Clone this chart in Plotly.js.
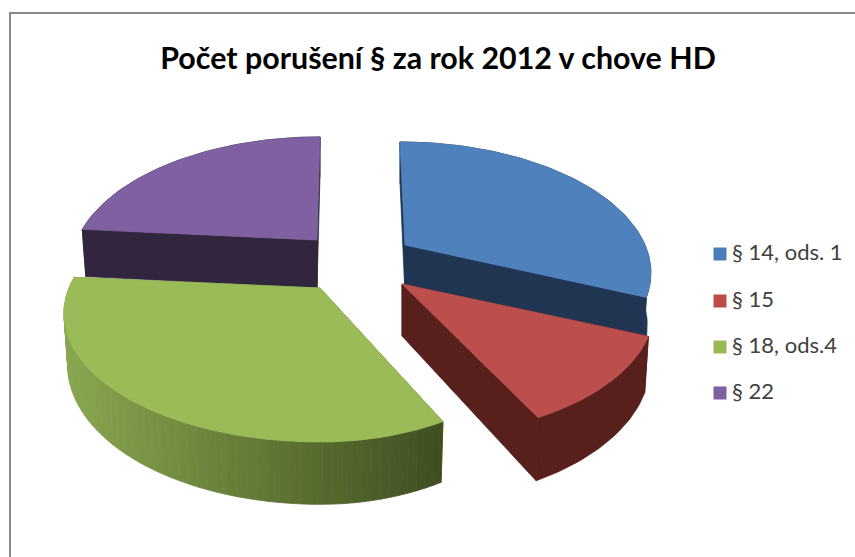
<!DOCTYPE html>
<html>
<head>
<meta charset="utf-8">
<script src="https://cdn.plot.ly/plotly-3.0.1.min.js"></script>
<style>html,body{margin:0;padding:0;background:#fff;overflow:hidden}</style>
</head>
<body>
<div id="chart" style="width:855px;height:557px"></div>
<script>
// Data
const titleText = "Počet porušení § za rok 2012 v chove HD";
const categories = ["§ 14, ods. 1", "§ 15", "§ 18, ods.4", "§ 22"];
const values = [31.4, 11.1, 33.9, 23.6];

// Styles
const topColors = ["#4f81bd", "#bc4f4c", "#9bbb59", "#7f60a0"];
const sideColors = ["#1f3552", "#57201c", "#5f7832", "#32263f"];
const keyColors = ["#4a7ebb", "#be4b48", "#98b954", "#7d60a0"];
const greenWallLeft = [136, 166, 78];
const greenWallRight = [62, 78, 32];

// Projection of the exploded tilted pie (pixel axes)
const apexX = [405, 402, 320, 317];
const apexY = [245, 284, 288, 240];
const radiusRight = [240, 247, 223, 240];
const radiusLeft = [240, 247, 251, 240];
const wallH = [50, 52, 50, 48];
const lean = [-5, 0, 0, 3];
const tiltA = 123.5, persp = 0.198, bottomShrink = 0.985;
const drawOrder = [0, 3, 1, 2];

const total = values.reduce((a, b) => a + b, 0);
let acc = 0;
const startDeg = [], endDeg = [];
values.forEach(v => { startDeg.push(acc / total * 360); acc += v; endDeg.push(acc / total * 360); });

function project(i, deg, r, low) {
  const t = deg * Math.PI / 180;
  const u = r * Math.sin(t), v = r * Math.cos(t);
  const w = 1 + persp * v;
  const sx = (u * (u >= 0 ? radiusRight[i] : radiusLeft[i])) / w + lean[i] * v;
  const sy = -v * tiltA / w;
  const x = apexX[i] + sx * (low ? bottomShrink : 1);
  const y = apexY[i] + sy + (low ? wallH[i] / w : 0);
  return [x, y];
}
function rim(i, a, b, low) {
  const n = Math.max(2, Math.ceil(Math.abs(b - a) / 1.5));
  const pts = [];
  for (let k = 0; k <= n; k++) pts.push(project(i, a + (b - a) * k / n, 1, low));
  return pts;
}
function poly(pts, color) {
  const p = pts.concat([pts[0]]);
  return { type: "scatter", mode: "lines", x: p.map(q => q[0]), y: p.map(q => q[1]),
    fill: "toself", fillcolor: color, line: { color: color, width: 0.8 },
    hoverinfo: "skip", showlegend: false };
}

const traces = [];
drawOrder.forEach(i => {
  const a = startDeg[i], b = endDeg[i], side = sideColors[i];
  const apexT = project(i, a, 0, false), apexB = project(i, a, 0, true);
  traces.push(poly([apexT, project(i, a, 1, false), project(i, a, 1, true), apexB], side));
  traces.push(poly([apexT, project(i, b, 1, false), project(i, b, 1, true), apexB], side));
  if (i === 2) {
    // shaded outer wall of the green slice: dark on the right, light on the left
    const n = 60;
    const xR = project(i, a, 1, false)[0], xL = 65;
    for (let k = 0; k < n; k++) {
      const d0 = a + (b - a) * k / n, d1 = a + (b - a) * (k + 1) / n;
      const xm = project(i, (d0 + d1) / 2, 1, false)[0];
      const f = Math.min(1, Math.max(0, (xm - xL) / (xR - xL)));
      const c = greenWallLeft.map((c0, j) => Math.round(c0 + (greenWallRight[j] - c0) * f));
      traces.push(poly(rim(i, d0, d1, false).concat(rim(i, d1, d0, true)), `rgb(${c.join(",")})`));
    }
  } else {
    traces.push(poly(rim(i, a, b, false).concat(rim(i, b, a, true)), side));
  }
  traces.push(poly([apexT].concat(rim(i, a, b, false)), topColors[i]));
});

// Key
const keyX = 720, keyTextX = 732, keyY = [254, 301, 347, 393];
categories.forEach((c, i) => {
  traces.push({
    type: "scatter", mode: "markers", x: [keyX], y: [keyY[i]], name: c,
    marker: { symbol: "square", size: 13, color: keyColors[i] },
    hoverinfo: "skip", showlegend: false
  });
  traces.push({
    type: "scatter", mode: "text", x: [keyTextX], y: [keyY[i]], text: [c],
    textposition: "middle right", name: c,
    textfont: { family: "Lato, sans-serif", size: 22, color: "#404040" },
    hoverinfo: "skip", showlegend: false
  });
});

const layout = {
  width: 855, height: 557, margin: { l: 0, r: 0, t: 0, b: 0 },
  paper_bgcolor: "#ffffff", plot_bgcolor: "#ffffff", showlegend: false,
  title: { text: "<b>" + titleText + "</b>", x: 438 / 855, xanchor: "center", y: 1 - 58 / 557, yanchor: "middle",
    font: { family: "Lato, sans-serif", size: 30.4, color: "#000000" } },
  xaxis: { range: [0, 855], visible: false, fixedrange: true },
  yaxis: { range: [557, 0], visible: false, fixedrange: true },
  shapes: [{ type: "path", xref: "x", yref: "y", path: "M10,557 L10,13 L855,13",
    line: { color: "#8a8a8a", width: 2 } }]
};
Plotly.newPlot("chart", traces, layout, { displayModeBar: false, staticPlot: true });
</script>
</body>
</html>
